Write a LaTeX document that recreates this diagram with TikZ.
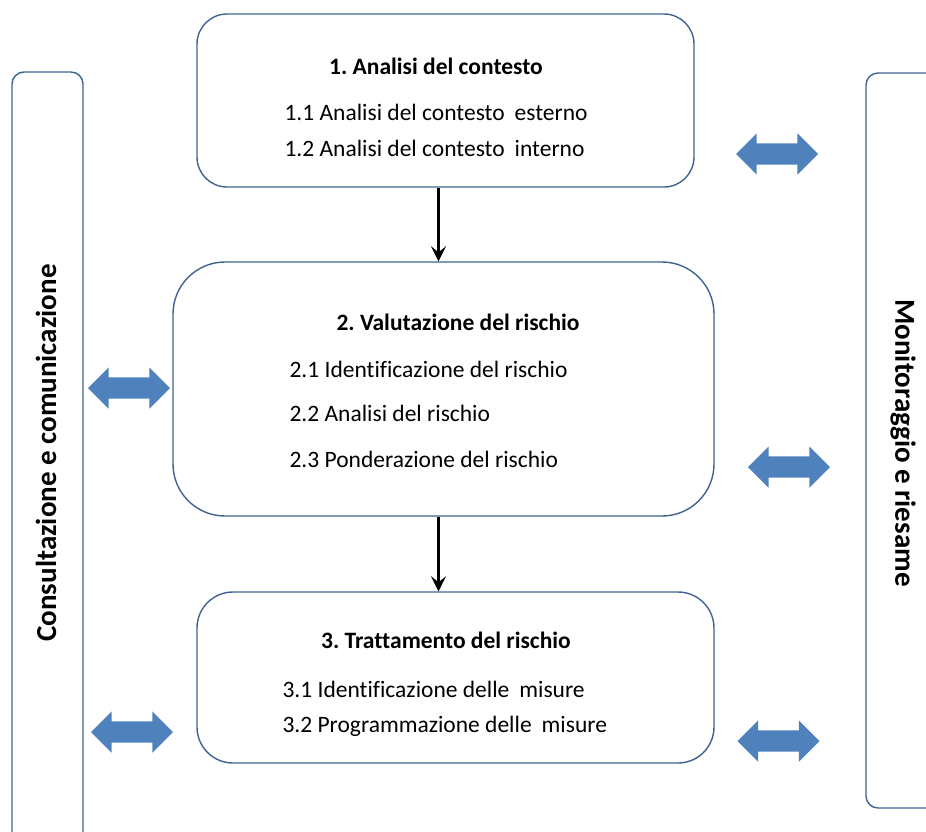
\documentclass[tikz,border=0pt]{standalone}
\usepackage{fontspec}
\setmainfont{Carlito}[Ligatures=CommonOff]
\usepackage{tikz}
\usetikzlibrary{arrows.meta,shapes.arrows,calc}
\definecolor{boxline}{HTML}{3F6390}
\definecolor{arrowfill}{HTML}{4F81BD}
\frenchspacing

\tikzset{
  phase/.style={draw=boxline, line width=1.4pt, fill=white, inner sep=0pt},
  sidebar/.style={draw=boxline, line width=1.4pt, rounded corners=12pt, inner sep=0pt},
  title/.style={anchor=base, font=\fontsize{23.5}{28}\selectfont\bfseries},
  item/.style={anchor=base west, font=\fontsize{23.5}{28}\selectfont},
  sidelabel/.style={font=\fontsize{29}{34}\selectfont\bfseries},
  dblarrow/.style={double arrow, fill=arrowfill, draw=none, inner xsep=0pt, inner ysep=10.5pt,
    minimum height=82pt, double arrow head extend=10pt},
  flow/.style={line width=2.8pt, -{Stealth[length=15pt,width=15pt,inset=6pt]}}
}

\begin{document}
\begin{tikzpicture}[x=1pt,y=-1pt]
\useasboundingbox (0,0) rectangle (926,831);

% side bars
\node[sidebar, minimum width=71pt, minimum height=773pt] (cons) at (47.5,458.5) {};
\node[sidebar, minimum width=74pt, minimum height=735pt] (moni) at (903,440.5) {};
\node[sidelabel, rotate=90] (consl) at (46,453) {Consultazione e comunicazione};
\node[sidelabel, rotate=-90] (monil) at (903,443) {Monitoraggio e riesame};

% phases
\node[phase, rounded corners=30pt, minimum width=497pt, minimum height=173pt] (b1) at (445.5,100.5) {};
\node[phase, rounded corners=52pt, minimum width=541pt, minimum height=254pt] (b2) at (443.5,389) {};
\node[phase, rounded corners=36pt, minimum width=517pt, minimum height=171pt] (b3) at (455.5,677.5) {};

\node[title] (t1) at (436,74) {1. Analisi del contesto};
\node[item] (i11) at (281,120) {1.1 Analisi del contesto\hspace{0.2em} esterno};
\node[item] (i12) at (281,156) {1.2 Analisi del contesto\hspace{0.2em} interno};

\node[title] (t2) at (458,330) {2. Valutazione del rischio};
\node[item] (i21) at (286,377) {2.1 Identificazione del rischio};
\node[item] (i22) at (286,421) {2.2 Analisi del rischio};
\node[item] (i23) at (286,467) {2.3 Ponderazione del rischio};

\node[title] (t3) at (446,648) {3. Trattamento del rischio};
\node[item] (i31) at (279,697) {3.1 Identificazione delle\hspace{0.2em} misure};
\node[item] (i32) at (279,732) {3.2 Programmazione delle\hspace{0.2em} misure};

% flow between phases
\coordinate (axis) at (438.5,0);
\draw[flow] (b1.south -| axis) -- (b2.north -| axis);
\draw[flow] (b2.south -| axis) -- (b3.north -| axis);

% exchange arrows
\foreach \name/\pos in {d1/{(777,154)}, d2/{(129,388)}, d3/{(789,467)}, d4/{(132,732)}, d5/{(778.5,741)}}
  \node[dblarrow] (\name) at \pos {};
\end{tikzpicture}
\end{document}
